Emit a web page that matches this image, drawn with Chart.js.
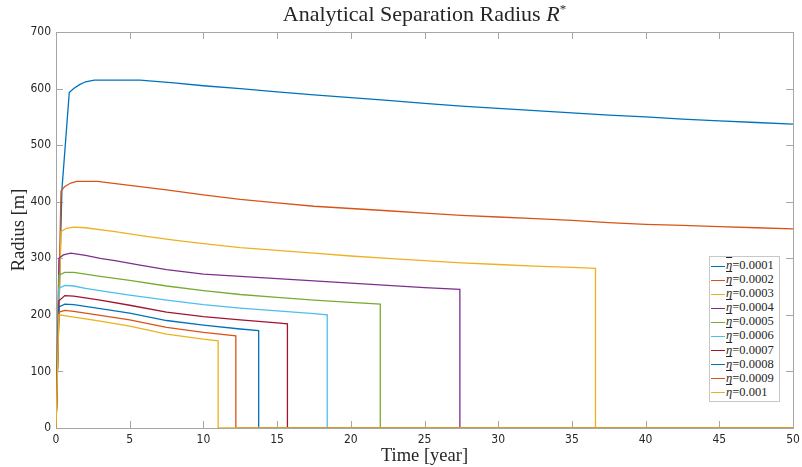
<!DOCTYPE html>
<html>
<head>
<meta charset="utf-8">
<script src="https://cdn.jsdelivr.net/npm/chart.js@4"></script>
<style>
    body { margin: 0; background: #ffffff; }
    #wrap { position: relative; width: 802px; height: 467px; }
    #titel {
        position: absolute; left: 56px; width: 737px; top: 1px;
        text-align: center; font-family: "Liberation Serif", "DejaVu Serif", serif;
        font-size: 22px; color: #262626;
    }
    #legenda {
        position: absolute; left: 709px; top: 256px; width: 68px;
        background: #ffffff; border: 1px solid #c8c8c8;
        font-family: "Liberation Serif", "DejaVu Serif", serif; font-size: 12.5px; color: #262626;
        padding: 1px 0 2px 1px;
    }
    .rij { height: 14.1px; line-height: 14.1px; white-space: nowrap; }
    .streep { display: inline-block; width: 14px; height: 0; border-top: 1.3px solid; vertical-align: middle; margin-right: 1px; }
    .eta { text-decoration: overline; font-style: italic; }
</style>
</head>
<body>
<div id="wrap">
    <canvas id="grafiek" width="802" height="467"></canvas>
    <div id="titel">Analytical Separation Radius <i>R</i><sup style="font-size:13px">*</sup></div>
    <div id="legenda"></div>
</div>
<script>
"use strict";

// Waarden van eta (legenda) en de standaardkleuren van MATLAB.
const etaLabels = ["0.0001", "0.0002", "0.0003", "0.0004", "0.0005", "0.0006", "0.0007", "0.0008", "0.0009", "0.001"];
const kleuren = ["#0072BD", "#D95319", "#EDB120", "#7E2F8E", "#77AC30", "#4DBEEE", "#A2142F", "#0072BD", "#D95319", "#EDB120"];

// Tick-labels van de assen.
const xTicks = [0, 5, 10, 15, 20, 25, 30, 35, 40, 45, 50];
const yTicks = [0, 100, 200, 300, 400, 500, 600, 700];

const serie1 = [[0, 0], [0.4, 421], [0.9, 593], [1.2, 600], [1.6, 607], [2.0, 612], [2.6, 615], [5.7, 615], [8, 610], [10, 605], [12.5, 600], [15, 594], [17.5, 589], [20, 584], [22.5, 579], [25, 574], [27.5, 569], [30, 565], [32.5, 561], [35, 557], [37.5, 553], [40, 550], [42.5, 546], [45, 543], [47.5, 540], [50, 537]];
const serie2 = [[0, 0], [0.34, 419], [0.6, 427], [1.0, 433], [1.4, 436], [2.8, 436], [5, 429], [7.5, 421], [10, 412], [12.5, 404], [15, 398], [17.5, 392], [20, 388], [22.5, 384], [25, 380], [27.5, 376], [30, 373], [32.5, 370], [35, 367], [37.5, 363], [40, 360], [42.5, 358], [45, 356], [47.5, 354], [50, 352]];
const serie3 = [[0, 0], [0.34, 347], [0.7, 353], [1.2, 355], [2, 354], [4, 347], [6, 339], [8, 332], [10, 326], [12.5, 319], [15, 314], [17.5, 309], [20, 304], [22.5, 300], [25, 296], [27.5, 292], [30, 289], [32.5, 286], [35, 284], [36.6, 282], [36.6, 0], [50, 0]];
const serie4 = [[0, 0], [0.2, 300], [0.5, 306], [1, 309], [2, 305], [3, 300], [4, 296], [5.7, 288], [7.5, 280], [10, 272], [12.5, 268], [15, 264], [17.5, 260], [20, 256], [22.5, 252], [25, 248], [27.4, 245], [27.4, 0], [50, 0]];
const serie5 = [[0, 0], [0.2, 270], [0.6, 275], [1.2, 275], [3, 268], [5, 261], [7.5, 251], [10, 243], [12.5, 236], [15, 231], [17.5, 226], [20, 222], [22, 219], [22, 0], [50, 0]];
const serie6 = [[0, 0], [0.2, 247], [0.6, 252], [1.2, 251], [2, 247], [3.4, 241], [5, 235], [7.5, 226], [10, 218], [12.5, 212], [15, 207], [17.5, 202], [18.4, 200], [18.4, 0], [50, 0]];
const serie7 = [[0, 0], [0.2, 225], [0.6, 234], [1.2, 233], [3, 226], [5, 217], [7.5, 205], [10, 197], [12.5, 191], [15, 186], [15.7, 184], [15.7, 0], [50, 0]];
const serie8 = [[0, 0], [0.2, 214], [0.6, 219], [1.2, 218], [3, 211], [5, 203], [7.5, 190], [10, 182], [12.5, 175], [13.75, 172], [13.75, 0], [50, 0]];
const serie9 = [[0, 0], [0.2, 205], [0.6, 208], [1.2, 206], [3, 199], [5, 191], [7.5, 178], [10, 169], [12.2, 163], [12.2, 0], [50, 0]];
const serie10 = [[0, 0], [0.2, 200], [1, 197], [3, 189], [5, 180], [7.5, 166], [10, 157], [11, 154], [11, 0], [50, 0]];

const alleSeries = [serie1, serie2, serie3, serie4, serie5, serie6, serie7, serie8, serie9, serie10];

const asKleur = "#a6a6a6";
const tekstKleur = "#262626";
const tickFont = { family: "'Liberation Sans Narrow', 'DejaVu Sans Condensed', sans-serif", size: 12 };
const titelFont = { family: "'Liberation Serif', 'DejaVu Serif', serif", size: 18.5 };

// Teken het kader rond het plotgebied met de tickstreepjes naar binnen (zoals MATLAB).
const kaderPlugin = {
    id: "kader",
    beforeDatasetsDraw(chart) {
        const ctx = chart.ctx;
        const a = chart.chartArea;
        const sx = chart.scales.x;
        const sy = chart.scales.y;
        const lengte = 7;
        ctx.save();
        ctx.strokeStyle = asKleur;
        ctx.lineWidth = 1;
        ctx.strokeRect(Math.round(a.left) + 0.5, Math.round(a.top) + 0.5, Math.round(a.width), Math.round(a.height));
        ctx.beginPath();
        xTicks.forEach(v => {
            const x = Math.round(sx.getPixelForValue(v)) + 0.5;
            ctx.moveTo(x, a.bottom); ctx.lineTo(x, a.bottom - lengte);
            ctx.moveTo(x, a.top); ctx.lineTo(x, a.top + lengte);
        });
        yTicks.forEach(v => {
            const y = Math.round(sy.getPixelForValue(v)) + 0.5;
            ctx.moveTo(a.left, y); ctx.lineTo(a.left + lengte, y);
            ctx.moveTo(a.right, y); ctx.lineTo(a.right - lengte, y);
        });
        ctx.stroke();
        ctx.restore();
    }
};

// Zet de reeksen om naar datasets; de laatste reeks komt bovenop.
const datasets = alleSeries.map((serie, i) => ({
    label: "\u03B7=" + etaLabels[i],
    data: serie.map(p => ({ x: p[0], y: p[1] })),
    borderColor: kleuren[i],
    borderWidth: 1.3,
    pointRadius: 0,
    tension: 0,
    fill: false,
    order: alleSeries.length - i
}));

new Chart(document.getElementById("grafiek").getContext("2d"), {
    type: "line",
    data: { datasets: datasets },
    options: {
        responsive: false,
        animation: false,
        layout: { padding: { top: 32, right: 9, left: 0, bottom: 0 } },
        plugins: {
            legend: { display: false },
            tooltip: { enabled: false },
            title: { display: false }
        },
        scales: {
            x: {
                type: "linear",
                min: 0,
                max: 50,
                afterBuildTicks: s => { s.ticks = xTicks.map(v => ({ value: v })); },
                afterFit: s => { s.height = 39; s.paddingLeft = 0; s.paddingRight = 0; },
                grid: { display: false, drawTicks: false },
                border: { display: false },
                ticks: { color: tekstKleur, font: tickFont, padding: 5, maxRotation: 0 },
                title: { display: true, text: "Time [year]", color: tekstKleur, font: titelFont, padding: { top: 0, bottom: 0 } }
            },
            y: {
                type: "linear",
                min: 0,
                max: 700,
                afterBuildTicks: s => { s.ticks = yTicks.map(v => ({ value: v })); },
                afterFit: s => { s.width = 56; },
                grid: { display: false, drawTicks: false },
                border: { display: false },
                ticks: { color: tekstKleur, font: tickFont, padding: 5 },
                title: { display: true, text: "Radius [m]", color: tekstKleur, font: titelFont, padding: { top: 8, bottom: 4 } }
            }
        }
    },
    plugins: [kaderPlugin]
});

// Bouw de legenda rechtsonder in het plotgebied op uit dezelfde arrays.
const legenda = document.getElementById("legenda");
etaLabels.forEach((lab, i) => {
    const rij = document.createElement("div");
    rij.className = "rij";
    rij.innerHTML = `<span class="streep" style="border-color:${kleuren[i]}"></span><span class="eta">\u03B7</span>=${lab}`;
    legenda.appendChild(rij);
});
</script>
</body>
</html>
